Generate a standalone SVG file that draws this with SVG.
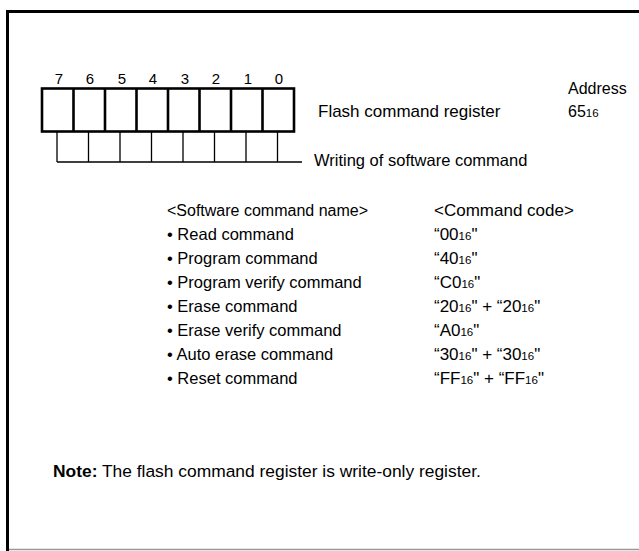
<svg xmlns="http://www.w3.org/2000/svg" width="639" height="551" viewBox="0 0 639 551">
<style>
text{font-family:"Liberation Sans",Arial,sans-serif;font-size:16.5px;fill:#000}
.d{font-size:15px;text-anchor:middle}
.s{font-size:11.5px}
.c{font-size:17px}
.h{font-size:16px}
.big{font-size:17px}
.note{font-size:17.4px}
.thick{fill:none;stroke:#000;stroke-width:2.6}
.thin{fill:none;stroke:#000;stroke-width:1.3}
</style>
<rect width="639" height="551" fill="#fff"/>
<g id="frame">
<path d="M7.5,551 V11.5 H639" fill="none" stroke="#000" stroke-width="3"/>
<line x1="9" y1="549.5" x2="639" y2="549.5" stroke="#999" stroke-width="1.5"/>
</g>
<g id="register">
<rect class="thick" x="42" y="88.5" width="252" height="43"/>
<path class="thick" d="M73.5,88.5V131.5M105,88.5V131.5M136.5,88.5V131.5M168,88.5V131.5M199.5,88.5V131.5M231,88.5V131.5M262.5,88.5V131.5"/>
<path class="thin" d="M57,132V162M88.5,132V162M120,132V162M151.5,132V162M183,132V162M214.5,132V162M246,132V162M277.5,132V162M57,162H302"/>
<text class="d" x="59" y="84">7</text>
<text class="d" x="90" y="84">6</text>
<text class="d" x="122" y="84">5</text>
<text class="d" x="153" y="84">4</text>
<text class="d" x="185" y="84">3</text>
<text class="d" x="216" y="84">2</text>
<text class="d" x="248" y="84">1</text>
<text class="d" x="279" y="84">0</text>
</g>
<g id="labels">
<text class="big" x="318" y="117">Flash command register</text>
<text class="h" x="568" y="94">Address</text>
<text class="h" x="568" y="117">65<tspan class="s">16</tspan></text>
<text x="314" y="166">Writing of software command</text>
</g>
<g id="table">
<text class="h" x="167" y="216">&lt;Software command name&gt;</text>
<text class="c" x="434" y="216">&lt;Command code&gt;</text>
<text x="167" y="240">• Read command</text>
<text class="c" x="434" y="240">“00<tspan class="s">16</tspan>"</text>
<text x="167" y="264">• Program command</text>
<text class="c" x="434" y="264">“40<tspan class="s">16</tspan>"</text>
<text x="167" y="288">• Program verify command</text>
<text class="c" x="434" y="288">“C0<tspan class="s">16</tspan>"</text>
<text x="167" y="312">• Erase command</text>
<text class="c" x="434" y="312">“20<tspan class="s">16</tspan>" + “20<tspan class="s">16</tspan>"</text>
<text x="167" y="336">• Erase verify command</text>
<text class="c" x="434" y="336">“A0<tspan class="s">16</tspan>"</text>
<text x="167" y="360">• Auto erase command</text>
<text class="c" x="434" y="360">“30<tspan class="s">16</tspan>" + “30<tspan class="s">16</tspan>"</text>
<text x="167" y="384">• Reset command</text>
<text class="c" x="434" y="384">“FF<tspan class="s">16</tspan>" + “FF<tspan class="s">16</tspan>"</text>
</g>
<g id="note">
<text class="note" x="53" y="477"><tspan font-weight="bold">Note:</tspan> The flash command register is write-only register.</text>
</g>
</svg>
